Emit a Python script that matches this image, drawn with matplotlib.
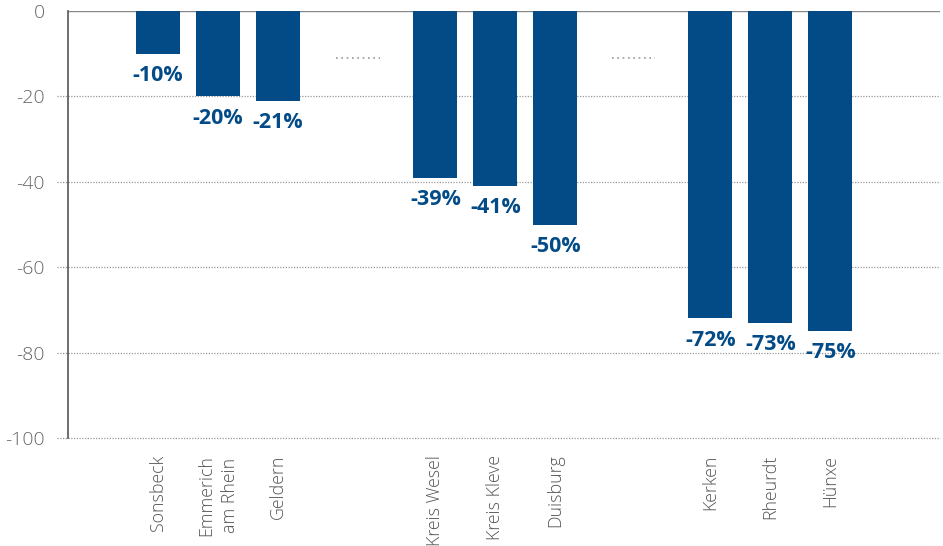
import matplotlib
matplotlib.use("Agg")
import matplotlib.pyplot as plt

# Change in percent, three groups separated by an ellipsis marker
places = ["Sonsbeck", "Emmerich\nam Rhein", "Geldern",
          "Kreis Wesel", "Kreis Kleve", "Duisburg",
          "Kerken", "Rheurdt", "Hünxe"]
change = [-10, -20, -21, -39, -41, -50, -72, -73, -75]
slot = [0, 1, 2, 4.62, 5.62, 6.62, 9.2, 10.2, 11.2]
gap_marks = [3.33, 7.92]
y_ticks = [0, -20, -40, -60, -80, -100]

BLUE = "#034b87"
GREY = "#666666"

plt.rcParams["font.family"] = ["Open Sans", "DejaVu Sans"]

fig = plt.figure(figsize=(9.43, 5.46), dpi=100)
ax = fig.add_axes([0.0721, 0.1978, 0.925, 0.782])

ax.bar(slot, change, width=0.733, color=BLUE, zorder=3)
for x, v in zip(slot, change):
    ax.annotate(f"-{abs(v)}%", (x, v), xytext=(0, -8), textcoords="offset points",
                ha="center", va="top", fontsize=15.5, fontweight="bold",
                color=BLUE, zorder=4)

# dotted ellipsis between the groups
for g in gap_marks:
    ax.plot([g - 0.36, g + 0.36], [-10.9, -10.9], color="#999999",
            linestyle=(0, (1, 2.2)), linewidth=1.2)

# dotted grid lines running a little past the left spine
for t in y_ticks[1:]:
    ax.plot([-0.013, 1.0], [t, t], transform=ax.get_yaxis_transform(),
            color="#999999", linestyle=(0, (1, 1.2)), linewidth=0.9,
            clip_on=False, zorder=1)
ax.axhline(0, color="#888888", linewidth=1.0, zorder=2)

ax.set_xlim(-1.5, 13.03)
ax.set_ylim(-100, 0)
ax.set_yticks(y_ticks)
ax.set_yticklabels([str(t) for t in y_ticks], fontweight="light")
ax.set_xticks(slot)
ax.set_xticklabels(places, rotation=90, va="top", ha="center",
                   multialignment="center", linespacing=1.45,
                   fontweight="light")

ax.tick_params(axis="y", length=0, pad=16.5, labelsize=14, labelcolor=GREY)
ax.tick_params(axis="x", length=0, pad=12, labelsize=12.8, labelcolor="#555555")

for side in ["top", "right", "bottom"]:
    ax.spines[side].set_visible(False)
ax.spines["left"].set_color("#555555")
ax.spines["left"].set_linewidth(1.2)

fig.savefig("out.png", dpi=100)
